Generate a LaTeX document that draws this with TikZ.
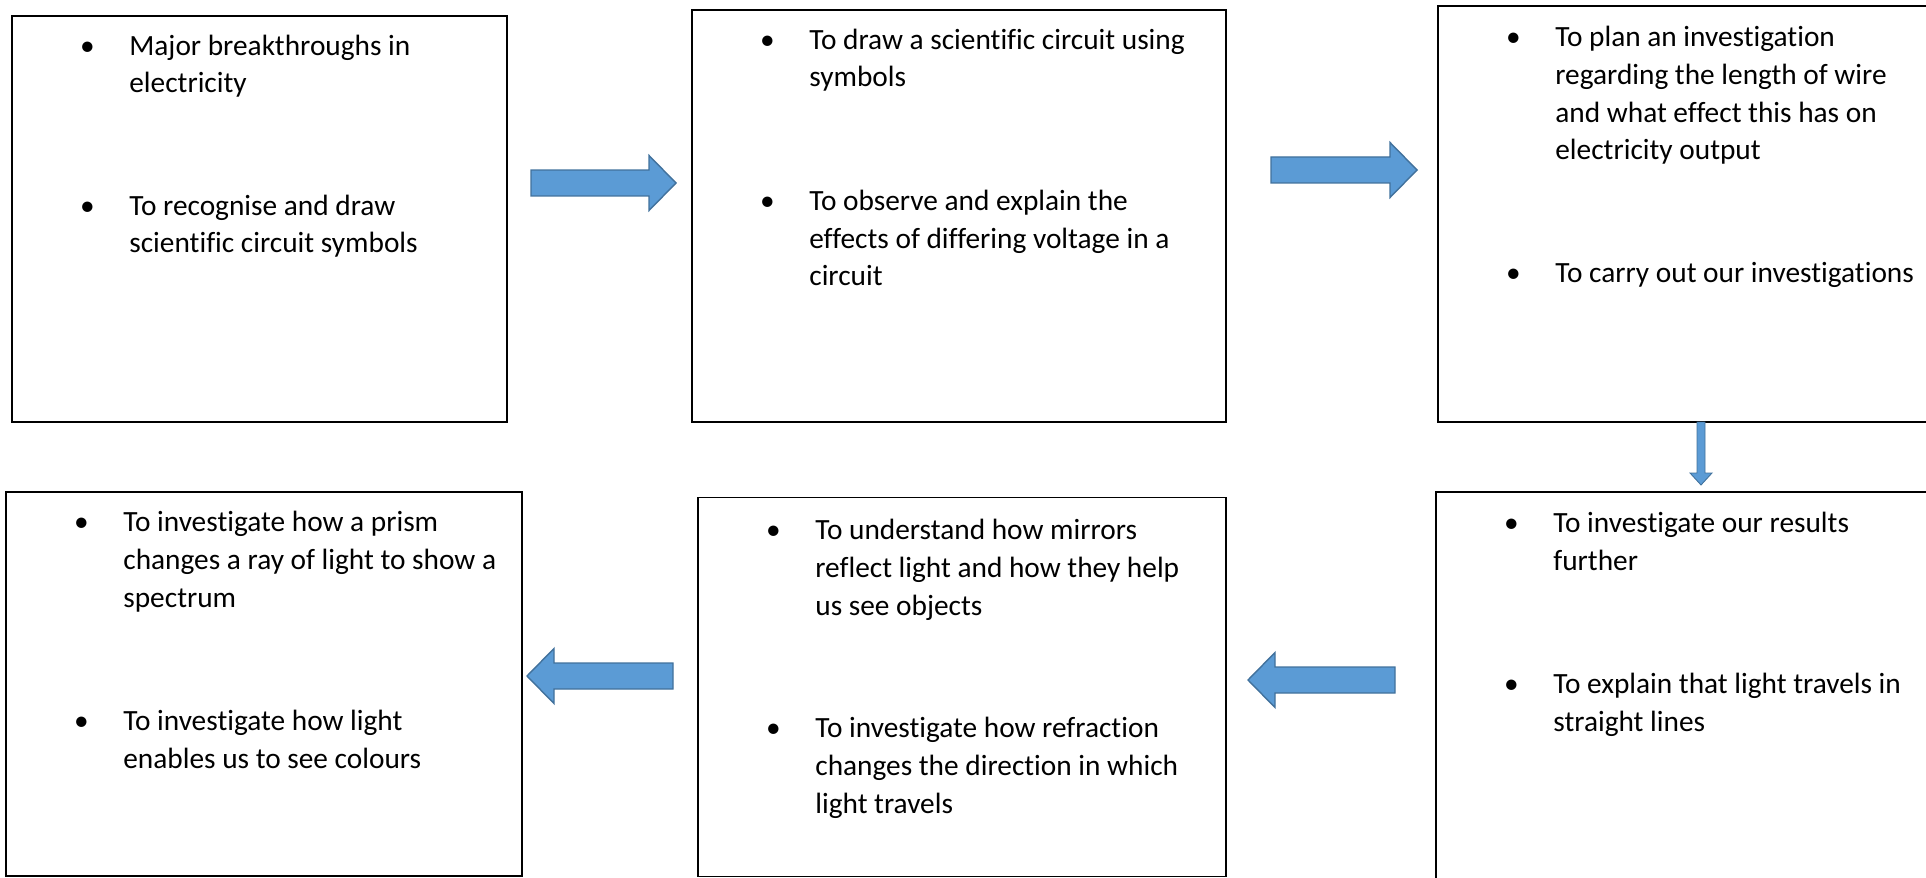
\documentclass[tikz,border=0pt]{standalone}
\usepackage{fontspec}
\setmainfont{Carlito}[Ligatures=CommonOff]
\usetikzlibrary{positioning, calc}

\definecolor{arrowfill}{RGB}{91,155,213}
\definecolor{arrowedge}{RGB}{65,113,156}

\newcommand{\blt}{\llap{\makebox[0pt][c]{\textbullet}\hspace{0.84cm}}}

\begin{document}
\begin{tikzpicture}[
    x=0.02cm, y=-0.02cm,
    topicbox/.style 2 args={draw=black, rectangle, line width=0.7pt, inner sep=0pt, minimum width=#1, minimum height=#2},
    goal/.style={anchor=base west, align=left, inner sep=0pt, font=\fontsize{16.7}{21.6}\selectfont},
    fatarrow/.style n args={3}{fill=arrowfill, draw=arrowedge, line width=0.8pt,
        to path={($(\tikztostart)!#1!90:(\tikztotarget)$)
            -- ($(\tikztotarget)!#3!(\tikztostart)!#1!90:(\tikztotarget)$)
            -- ($(\tikztotarget)!#3!(\tikztostart)!#2!90:(\tikztotarget)$)
            -- (\tikztotarget)
            -- ($(\tikztotarget)!#3!(\tikztostart)!#2!-90:(\tikztotarget)$)
            -- ($(\tikztotarget)!#3!(\tikztostart)!#1!-90:(\tikztotarget)$)
            -- ($(\tikztostart)!#1!-90:(\tikztotarget)$) -- cycle}},
    flowarrow/.style={fatarrow={0.26cm}{0.55cm}{0.54cm}},
    droparrow/.style={fatarrow={0.08cm}{0.22cm}{0.24cm}, line width=0.5pt}
]

\useasboundingbox (0,0) rectangle (1926,878);

% Top row (goal nodes sit on the baseline of their last line)
\node[topicbox={9.9cm}{8.12cm}] (box1) at (259.5,219) {};
\node[topicbox={10.68cm}{8.24cm}] (box2) at (959,216) {};
\node[topicbox={9.84cm}{8.32cm}] (box3) at (1684,214) {};

\node[goal] (g1a) at (129,93) {\blt Major breakthroughs in\\electricity};
\node[goal] (g1b) at (129,253) {\blt To recognise and draw\\scientific circuit symbols};

\node[goal] (g2a) at (809,87) {\blt To draw a scientific circuit using\\symbols};
\node[goal] (g2b) at (809,286) {\blt To observe and explain the\\effects of differing voltage in a\\circuit};

\node[goal] (g3a) at (1555,160) {\blt To plan an investigation\\regarding the length of wire\\and what effect this has on\\electricity output};
\node[goal] (g3b) at (1555,283) {\blt To carry out our investigations};

% Bottom row
\node[topicbox={9.88cm}{7.96cm}] (box4) at (1683,691) {};
\node[topicbox={10.56cm}{7.58cm}] (box5) at (962,687) {};
\node[topicbox={10.32cm}{7.68cm}] (box6) at (264,684) {};

\node[goal] (g4a) at (1553,570) {\blt To investigate our results\\further};
\node[goal] (g4b) at (1553,731) {\blt To explain that light travels in\\straight lines};

\node[goal] (g5a) at (815,615) {\blt To understand how mirrors\\reflect light and how they help\\us see objects};
\node[goal] (g5b) at (815,813) {\blt To investigate how refraction\\changes the direction in which\\light travels};

\node[goal] (g6a) at (123,607) {\blt To investigate how a prism\\changes a ray of light to show a\\spectrum};
\node[goal] (g6b) at (123,768) {\blt To investigate how light\\enables us to see colours};

% Arrow ends
\coordinate (a1s) at (531,183);
\coordinate (a1e) at (676,183);
\coordinate (a2s) at (1271,170);
\coordinate (a2e) at (1417,170);
\coordinate (a3s) at (1701,422);
\coordinate (a3e) at (1701,485);
\coordinate (a4s) at (1395,680);
\coordinate (a4e) at (1248,680);
\coordinate (a5s) at (673,676);
\coordinate (a5e) at (527,676);

\draw[flowarrow] (a1s) to (a1e);
\draw[flowarrow] (a2s) to (a2e);
\draw[droparrow] (a3s) to (a3e);
\draw[flowarrow] (a4s) to (a4e);
\draw[flowarrow] (a5s) to (a5e);

\end{tikzpicture}
\end{document}
